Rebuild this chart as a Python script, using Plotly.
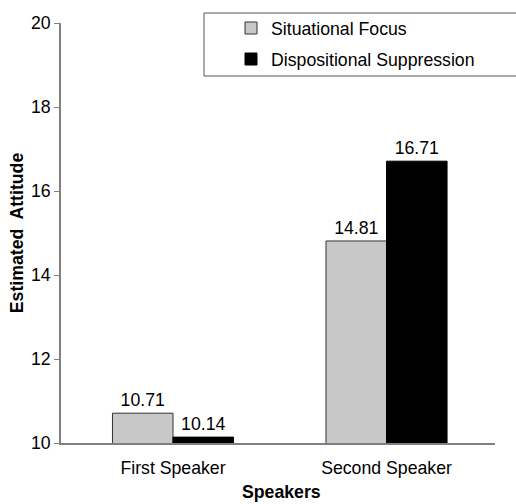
import plotly.graph_objects as go

categories = ["First Speaker", "Second Speaker"]
situational = [10.71, 14.81]
dispositional = [10.14, 16.71]
series_names = ["Situational Focus", "Dispositional Suppression"]
y_ticks = [10, 12, 14, 16, 18, 20]
x_title = "Speakers"
y_title = "Estimated  Attitude"

FONT = "Liberation Sans, Arial, sans-serif"
FS = 17.7

# pixel geometry helpers (paper coords)
H, T, B = 504, 2, 61
PH = H - T - B
L, R = 61, 21
PW = 516 - L - R


def py(px):
    return (H - B - px) / PH


def pxx(px):
    return (px - L) / PW


fig = go.Figure()
fig.add_trace(go.Bar(
    x=categories, y=situational, name=series_names[0],
    marker=dict(color="#c8c8c8", line=dict(color="#333333", width=1)),
    text=[f"{v:.2f}" for v in situational], textposition="outside",
    textfont=dict(size=FS, color="black", family=FONT), cliponaxis=False,
    legendgroup="a",
))
fig.add_trace(go.Bar(
    x=categories, y=dispositional, name=series_names[1],
    marker=dict(color="#000000", line=dict(color="#000000", width=1)),
    text=[f"{v:.2f}" for v in dispositional], textposition="outside",
    textfont=dict(size=FS, color="black", family=FONT), cliponaxis=False,
    legendgroup="b",
))

fig.update_layout(
    width=516, height=504,
    margin=dict(l=L, r=R, t=T, b=B, autoexpand=False),
    paper_bgcolor="white", plot_bgcolor="white",
    font=dict(family=FONT, size=FS, color="black"),
    barmode="group", bargap=0.433, bargroupgap=0,
    showlegend=True,
    legend=dict(
        x=pxx(231), xanchor="left",
        y=py(10), yanchor="top",
        bgcolor="rgba(0,0,0,0)", borderwidth=0,
        font=dict(size=FS, family=FONT, color="black"),
        tracegroupgap=5, itemwidth=30,
    ),
    shapes=[dict(
        type="rect", xref="paper", yref="paper",
        x0=pxx(204), x1=pxx(530),
        y0=py(76), y1=py(13),
        line=dict(color="#555555", width=1), fillcolor="white", layer="above",
    )],
    annotations=[dict(
        text=f"<b>{x_title}</b>", xref="paper", yref="paper",
        x=pxx(281), y=py(492), xanchor="center", yanchor="middle",
        showarrow=False, font=dict(size=FS, family=FONT, color="black"),
    )],
)
fig.update_xaxes(
    range=[-0.5246, 1.508],
    showline=True, linecolor="#808080", linewidth=1.5,
    ticks="", showgrid=False, tickfont=dict(size=FS), ticklabelstandoff=8,
    automargin=False,
)
fig.update_yaxes(
    range=[10, 20], tickvals=y_ticks, domain=[0, 420 / PH],
    showline=True, linecolor="#808080", linewidth=1.5,
    ticks="outside", ticklen=5, tickcolor="#808080", showgrid=False, zeroline=False,
    tickfont=dict(size=FS), automargin=False,
    title=dict(text=f"<b>{y_title}</b>", font=dict(size=FS), standoff=3),
)

fig.write_html("out.html", config={"displayModeBar": False},
               post_script="document.body.style.margin='0px';")
